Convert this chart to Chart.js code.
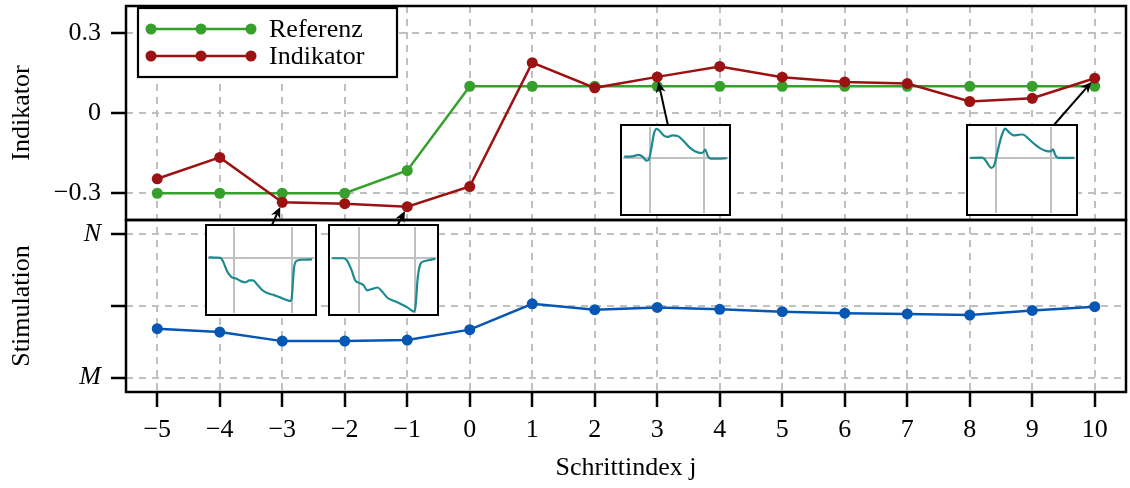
<!DOCTYPE html>
<html>
<head>
<meta charset="utf-8">
<script src="https://cdn.jsdelivr.net/npm/chart.js@4.4.1/dist/chart.umd.min.js"></script>
<style>
  html, body { margin: 0; padding: 0; background: #fff; }
  #wrap { position: relative; width: 1130px; height: 488px; }
  .inset { position: absolute; box-sizing: border-box; border: 2.5px solid #000; background: #fff; }
  .inset canvas { display: block; }
</style>
</head>
<body>
<div id="wrap">
  <canvas id="main"></canvas>
</div>
<script>
// Schrittindex j
const steps = [-5, -4, -3, -2, -1, 0, 1, 2, 3, 4, 5, 6, 7, 8, 9, 10];

// top panel (Indikator axis)
const referenz  = [-0.3, -0.3, -0.3, -0.3, -0.215, 0.1, 0.1, 0.1, 0.1, 0.1, 0.1, 0.1, 0.1, 0.1, 0.1, 0.1];
const indikator = [-0.246, -0.166, -0.334, -0.339, -0.35, -0.275, 0.188, 0.094, 0.135, 0.174, 0.134, 0.116, 0.11, 0.043, 0.055, 0.13];

// bottom panel (Stimulation axis, M = 0 ... N = 2)
const stimulation = [0.683, 0.636, 0.51, 0.51, 0.525, 0.67, 1.03, 0.948, 0.98, 0.953, 0.92, 0.90, 0.89, 0.873, 0.938, 0.99];

const indTicks = [-0.3, 0, 0.3];
const stimTicks = [0, 1, 2];
const stimTickLabels = ['M', '', 'N'];

// small pulse shapes shown in the insets
const insetA_x = [-0.48, -0.33, -0.21, -0.14, -0.065, -0.02, 0.024, 0.07, 0.12, 0.17, 0.25, 0.32, 0.41, 0.51, 0.62, 0.73, 0.83, 0.95, 0.99, 1.02, 1.07, 1.12, 1.27, 1.42];
const insetA_y = [0.04, 0.05, 0.10, 0.04, -0.09, -0.04, 0.32, 0.78, 0.94, 0.89, 0.73, 0.68, 0.73, 0.71, 0.55, 0.34, 0.22, 0.16, 0.20, 0.27, 0.06, -0.02, -0.02, -0.01];

const insetB_x = [-0.47, -0.26, -0.21, -0.15, -0.09, -0.04, 0, 0.06, 0.12, 0.165, 0.235, 0.32, 0.41, 0.49, 0.59, 0.71, 0.81, 0.91, 1.0, 1.04, 1.08, 1.14, 1.43];
const insetB_y = [0, 0.01, -0.03, -0.19, -0.32, -0.27, -0.03, 0.44, 0.80, 0.95, 0.84, 0.73, 0.75, 0.76, 0.63, 0.44, 0.31, 0.23, 0.21, 0.28, 0.10, 0, 0];

const insetC_x = [-0.43, -0.31, -0.23, -0.18, -0.11, -0.04, 0.04, 0.13, 0.2, 0.27, 0.33, 0.40, 0.49, 0.57, 0.68, 0.79, 0.90, 0.97, 0.99, 1.03, 1.07, 1.15, 1.34];
const insetC_y = [0.02, 0.01, 0, -0.13, -0.45, -0.62, -0.67, -0.76, -0.79, -0.73, -0.73, -0.86, -1.05, -1.14, -1.20, -1.28, -1.36, -1.40, -1.33, -0.34, -0.10, -0.06, -0.05];

const insetD_x = [-0.47, -0.27, -0.21, -0.13, -0.06, 0.01, 0.08, 0.15, 0.23, 0.33, 0.41, 0.51, 0.63, 0.75, 0.87, 0.97, 1.0, 1.04, 1.09, 1.15, 1.35];
const insetD_y = [-0.01, -0.01, -0.08, -0.39, -0.74, -0.81, -0.88, -1.05, -1.01, -0.96, -1.09, -1.30, -1.40, -1.50, -1.62, -1.74, -1.59, -0.65, -0.19, -0.11, -0.03];

const green = '#37a02d';
const red = '#9c1212';
const blue = '#0657b4';
const teal = '#1d8a8f';
const gridGrey = '#c0c0c0';
const serif = "'Liberation Serif', 'Times New Roman', serif";

// inset boxes, target = index of the Indikator point the arrow points at
const insets = [
  { target: 8,  box: { left: 621, top: 125, width: 109, height: 90 }, tail: 0.43, xs: insetA_x, ys: insetA_y, xMin: -0.5,  xMax: 1.45 },
  { target: 15, box: { left: 967, top: 125, width: 110, height: 90 }, tail: 0.79, xs: insetB_x, ys: insetB_y, xMin: -0.49, xMax: 1.45 },
  { target: 2,  box: { left: 206, top: 225, width: 110, height: 90 }, tail: 0.60, xs: insetC_x, ys: insetC_y, xMin: -0.44, xMax: 1.38 },
  { target: 4,  box: { left: 329, top: 225, width: 109, height: 90 }, tail: 0.63, xs: insetD_x, ys: insetD_y, xMin: -0.49, xMax: 1.37 }
];

const fmt = v => (v < 0 ? '\u2212' + Math.abs(v) : String(v));
const pts = (xs, ys) => xs.map((x, i) => ({ x: x, y: ys[i] }));

function axisGrid() {
    return {
        color: gridGrey,
        lineWidth: 2,
        drawTicks: true,
        tickLength: 15,
        tickColor: '#000',
        tickWidth: 2.5,
        tickBorderDash: []
    };
}

// fixed axis sizes, no extra label padding pushing the plot area around
function fixSize(size) {
    return s => {
        if (s.isHorizontal()) s.height = size; else s.width = size;
        s.paddingTop = 0;
        s.paddingBottom = 0;
        s.paddingLeft = 0;
        s.paddingRight = 0;
    };
}

const panelFrame = {
    id: 'panelFrame',
    afterDraw(chart) {
        const { ctx, chartArea } = chart;
        ctx.save();
        ctx.strokeStyle = '#000';
        ctx.lineWidth = 2.5;
        ['yInd', 'yStim'].forEach(id => {
            const s = chart.scales[id];
            ctx.strokeRect(chartArea.left, s.top, chartArea.right - chartArea.left, s.bottom - s.top);
        });
        ctx.restore();
    }
};

// legend with three markers per entry, like the original
const boxLegend = {
    id: 'boxLegend',
    afterDraw(chart) {
        const ctx = chart.ctx;
        ctx.save();
        ctx.fillStyle = '#fff';
        ctx.fillRect(138, 8, 259, 69);
        ctx.lineWidth = 2.2;
        ctx.strokeStyle = '#000';
        ctx.strokeRect(138, 8, 259, 69);
        chart.data.datasets.slice(0, 2).forEach((ds, i) => {
            const y = 29 + i * 27;
            ctx.strokeStyle = ds.borderColor;
            ctx.lineWidth = 2.5;
            ctx.beginPath();
            ctx.moveTo(151, y);
            ctx.lineTo(251, y);
            ctx.stroke();
            ctx.fillStyle = ds.borderColor;
            [151, 201, 251].forEach(x => {
                ctx.beginPath();
                ctx.arc(x, y, 5.5, 0, Math.PI * 2);
                ctx.fill();
            });
            ctx.fillStyle = '#000';
            ctx.font = '26px ' + serif;
            ctx.textBaseline = 'middle';
            ctx.fillText(ds.label, 269, y + 1);
        });
        ctx.restore();
    }
};

const insetArrows = {
    id: 'insetArrows',
    afterDraw(chart) {
        const ctx = chart.ctx;
        const meta = chart.getDatasetMeta(1);
        ctx.save();
        ctx.strokeStyle = '#000';
        ctx.fillStyle = '#000';
        ctx.lineWidth = 2;
        insets.forEach(ins => {
            const p = meta.data[ins.target];
            const tx = ins.box.left + ins.box.width * ins.tail;
            const ty = ins.box.top;
            const dx = p.x - tx, dy = p.y - ty;
            const len = Math.hypot(dx, dy);
            const ux = dx / len, uy = dy / len;
            const ex = p.x - ux * 5, ey = p.y - uy * 5;
            const hl = 11, hw = 5;
            ctx.beginPath();
            ctx.moveTo(tx, ty);
            ctx.lineTo(ex - ux * hl * 0.7, ey - uy * hl * 0.7);
            ctx.stroke();
            ctx.beginPath();
            ctx.moveTo(ex, ey);
            ctx.lineTo(ex - ux * hl + uy * hw, ey - uy * hl - ux * hw);
            ctx.lineTo(ex - ux * hl * 0.7, ey - uy * hl * 0.7);
            ctx.lineTo(ex - ux * hl - uy * hw, ey - uy * hl + ux * hw);
            ctx.closePath();
            ctx.fill();
        });
        ctx.restore();
    }
};

new Chart(document.getElementById('main'), {
    type: 'line',
    data: {
        datasets: [
            { label: 'Referenz', data: pts(steps, referenz), yAxisID: 'yInd', borderColor: green, backgroundColor: green, order: 1 },
            { label: 'Indikator', data: pts(steps, indikator), yAxisID: 'yInd', borderColor: red, backgroundColor: red, order: 0 },
            { label: 'Stimulation', data: pts(steps, stimulation), yAxisID: 'yStim', borderColor: blue, backgroundColor: blue, order: 2 }
        ]
    },
    options: {
        responsive: true,
        maintainAspectRatio: false,
        animation: false,
        events: [],
        layout: { autoPadding: false, padding: { top: 6, right: 4, left: 0, bottom: 0 } },
        elements: {
            line: { borderWidth: 2.5, tension: 0 },
            point: { radius: 5.5, hoverRadius: 5.5, borderWidth: 0 }
        },
        plugins: { legend: { display: false }, tooltip: { enabled: false } },
        scales: {
            x: {
                type: 'linear',
                min: -5.5,
                max: 10.5,
                afterBuildTicks: s => { s.ticks = steps.map(v => ({ value: v })); },
                afterFit: fixSize(96),
                ticks: { font: { family: serif, size: 26 }, color: '#000', padding: 8, maxRotation: 0, autoSkip: false, callback: v => fmt(v) },
                grid: axisGrid(),
                border: { display: false, dash: [7, 6] },
                title: { display: true, text: 'Schrittindex j', color: '#000', font: { family: serif, size: 26 }, padding: { top: 0, bottom: 4 } }
            },
            yInd: {
                type: 'linear',
                position: 'left',
                stack: 'panels',
                stackWeight: 214,
                weight: 1,
                min: -0.4,
                max: 0.4,
                afterBuildTicks: s => { s.ticks = indTicks.map(v => ({ value: v })); },
                afterFit: fixSize(126),
                ticks: { font: { family: serif, size: 26 }, color: '#000', padding: 10, callback: v => fmt(v) },
                grid: axisGrid(),
                border: { display: false, dash: [7, 6] },
                title: { display: true, text: 'Indikator', color: '#000', font: { family: serif, size: 26 }, padding: { top: 7, bottom: 0 } }
            },
            yStim: {
                type: 'linear',
                position: 'left',
                stack: 'panels',
                stackWeight: 172,
                weight: 0,
                min: -0.2,
                max: 2.2,
                afterBuildTicks: s => { s.ticks = stimTicks.map(v => ({ value: v })); },
                afterFit: fixSize(126),
                ticks: { font: { family: serif, size: 26, style: 'italic' }, color: '#000', padding: 10, callback: (v, i) => stimTickLabels[i] },
                grid: axisGrid(),
                border: { display: false, dash: [7, 6] },
                title: { display: true, text: 'Stimulation', color: '#000', font: { family: serif, size: 26 }, padding: { top: 7, bottom: 0 } }
            }
        }
    },
    plugins: [panelFrame, boxLegend, insetArrows]
});

// inset charts on top of the main canvas
const wrap = document.getElementById('wrap');
insets.forEach(ins => {
    const div = document.createElement('div');
    div.className = 'inset';
    div.style.left = (ins.box.left - 1.25) + 'px';
    div.style.top = (ins.box.top - 1.25) + 'px';
    div.style.width = (ins.box.width + 2.5) + 'px';
    div.style.height = (ins.box.height + 2.5) + 'px';
    const cv = document.createElement('canvas');
    div.appendChild(cv);
    wrap.appendChild(div);

    new Chart(cv, {
        type: 'line',
        data: {
            datasets: [{
                data: pts(ins.xs, ins.ys),
                borderColor: teal,
                borderWidth: 2.2,
                pointRadius: 0,
                cubicInterpolationMode: 'monotone'
            }]
        },
        options: {
            responsive: true,
            maintainAspectRatio: false,
            animation: false,
            events: [],
            layout: { padding: 0 },
            plugins: { legend: { display: false }, tooltip: { enabled: false } },
            scales: {
                x: {
                    type: 'linear', min: ins.xMin, max: ins.xMax,
                    afterBuildTicks: s => { s.ticks = [{ value: 0 }, { value: 1 }]; },
                    ticks: { display: false },
                    grid: { color: gridGrey, lineWidth: 2, drawTicks: false },
                    border: { display: false }
                },
                y: {
                    type: 'linear', min: -1.8, max: 1,
                    afterBuildTicks: s => { s.ticks = [{ value: 0 }]; },
                    ticks: { display: false },
                    grid: { color: gridGrey, lineWidth: 2, drawTicks: false },
                    border: { display: false }
                }
            }
        }
    });
});
</script>
</body>
</html>
